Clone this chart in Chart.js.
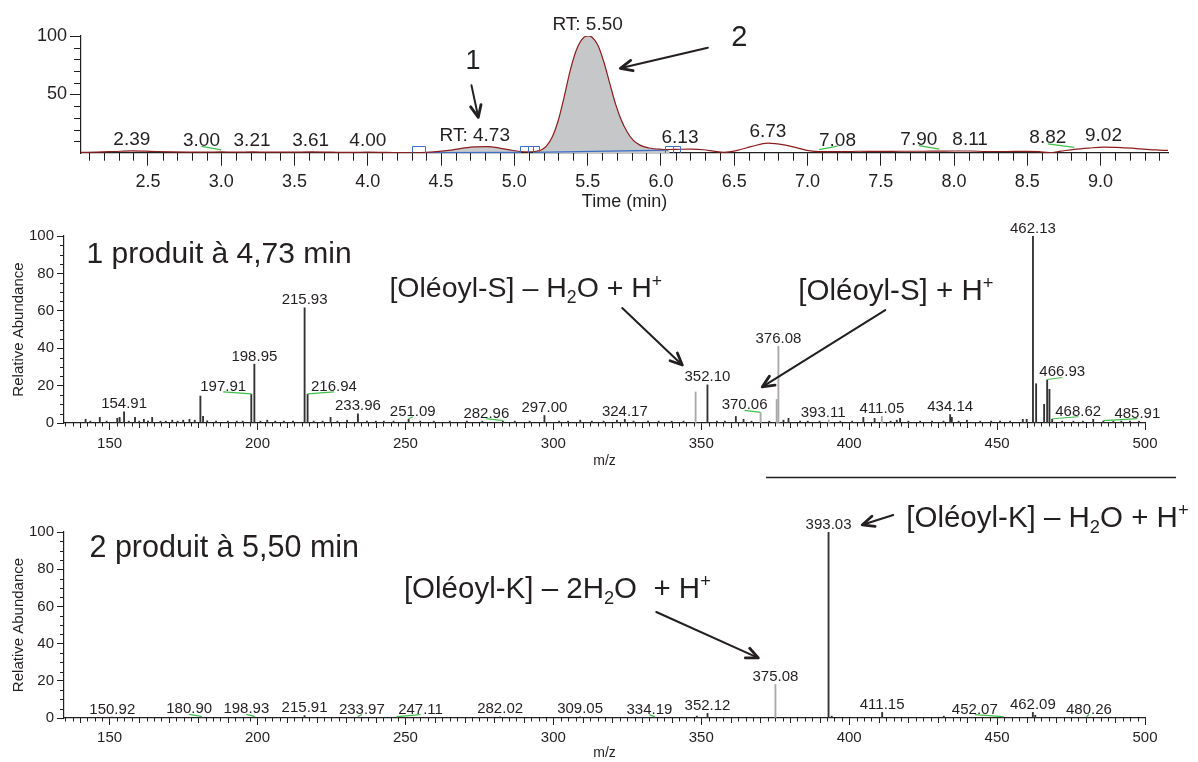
<!DOCTYPE html>
<html><head><meta charset="utf-8">
<script src="https://cdn.jsdelivr.net/npm/chart.js@4.4.1/dist/chart.umd.min.js"></script>
<style>
html,body{margin:0;padding:0;background:#fff;width:1198px;height:762px;overflow:hidden}
canvas{position:absolute;left:0}
</style></head><body>
<canvas id="c1" width="1198" height="215" style="top:0px"></canvas>
<canvas id="c2" width="1198" height="260" style="top:210px"></canvas>
<canvas id="c3" width="1198" height="292" style="top:470px"></canvas>
<script>
// ===================== DATA =====================
// Chromatogram (time in min, relative abundance %)
const chromTimes = [2.04,2.15,2.27,2.39,2.52,2.66,2.80,2.90,3.00,3.10,3.21,3.33,3.47,3.61,3.75,3.88,4.00,4.13,4.26,4.36,4.45,4.55,4.64,4.73,4.82,4.90,4.97,5.04,5.10,5.15,5.19,5.22,5.26,5.30,5.34,5.38,5.42,5.46,5.50,5.53,5.57,5.61,5.65,5.69,5.73,5.77,5.81,5.86,5.92,6.00,6.06,6.13,6.21,6.29,6.36,6.43,6.52,6.62,6.73,6.84,6.94,7.02,7.08,7.20,7.35,7.50,7.65,7.78,7.90,8.00,8.11,8.22,8.35,8.50,8.58,8.65,8.73,8.82,8.92,9.02,9.14,9.27,9.38,9.46];
const chromAbund = [0.5,0.8,1.3,1.8,1.4,1.0,0.8,0.7,0.9,0.7,0.9,0.7,0.7,0.9,0.7,0.5,0.7,0.5,0.3,0.4,1.0,2.2,4.0,5.3,5.4,4.2,2.6,1.3,1.0,1.5,3.0,6,14,28,48,70,87,97,100,99,92,78,60,42,28,18,11,6.5,4.3,3.2,3.0,3.2,3.3,2.8,1.6,0.6,2.2,5.6,8.5,7.0,4.0,1.8,1.2,1.1,1.5,1.4,1.5,1.5,1.6,1.7,1.7,1.3,1.3,1.4,1.1,0.3,1.6,3.1,4.2,5.0,4.6,3.6,2.6,2.2];
const chromPeakRT = [2.39,3.00,3.21,3.61,4.00,4.73,5.50,6.13,6.73,7.08,7.90,8.11,8.82,9.02];
const chromRTLabelled = [4.73,5.50];
const chromPeak1Range = [4.36,5.04];
const chromPeak2Range = [5.15,6.06];
const chromBaseline1 = [[4.33,0.3],[5.04,0.5]];
const chromBaseline2 = [[5.13,0.5],[6.05,2.4]];
const chromTickMajor = 0.5, chromTickMinor = 0.1;

// Spectrum 1 : product of peak 1 at 4.73 min
const spec1Mz  = [141.9,143.5,146.7,149,152.6,153.4,154.91,156.5,158.6,160,161.6,163,164.4,167.2,169,171.2,173,174.9,177.0,178.8,180.7,181.6,183,186,190,193,195,197.91,198.95,201,203.3,206,208.9,212,215.93,216.94,219,222,224.7,227,230.3,233.96,237,240,242.7,246,251.09,255,259.6,265,270.8,276,282.96,287,292,297.00,302,305,309.1,313,317,321.5,324.17,327.1,332,335.6,340,344,348.1,352.10,355.3,358,361.7,364.3,367,370.06,373,375.5,376.08,377.8,379.5,383.4,386,390,393.11,397,401,404.8,408.6,411.05,414,416.1,417.2,420,424,428,431.9,434.14,434.7,437,439.8,444.3,448,451,454.4,458.7,460,462.13,463.2,465.9,466.93,467.7,468.62,472,475.8,479,482.5,485.91,489.3,492,494.9,498];
const spec1Int = [2,1,3,1,2.5,3,6,1,3,1,2,1,3,1,1,1.5,1,1.5,2,1.5,14.4,3.6,1.2,1,1,1,1,15.3,31.5,1,1.5,1,1,1,61.6,15.3,1,1,3,1,1.5,4.9,1,1,1,1,2,1,1,1,1,1,1,1,1,4,1,1,1.5,1,1,1.5,2,1,1,1,1,1,16.6,20.4,1,1,3.5,2,1,5.4,1,12.6,41,1.5,2.5,1,1,1,1.5,1,1,3,2.5,3.5,1,1.5,2.5,1,1,1,1,4.5,3,1,1.5,1,1,1,1,2,2,100,21,10,23,18,2,1,1,1,2,1,1,1,1,1];
const spec1Labels = [154.91,197.91,198.95,215.93,216.94,233.96,251.09,282.96,297.00,324.17,352.10,370.06,376.08,393.11,411.05,434.14,462.13,466.93,468.62,485.91];
const spec1Light  = [348.1,370.06,375.5,376.08,393.11,411.05];

// Spectrum 2 : product of peak 2 at 5.50 min
const spec2Mz  = [142,150.92,158,165,172,180.90,188,198.93,205,215.91,225,233.97,240,247.11,262,270,282.02,296,309.05,320,334.19,342,348.5,352.12,360,368,375.08,385,393.03,394.1,402,411.15,420,432,440,452.07,462.09,462.9,470,480.26,490];
const spec2Int = [0.3,0.5,0.3,0.3,0.3,0.6,0.3,0.6,0.3,1.3,0.3,0.5,0.3,0.5,0.3,0.3,0.6,0.3,0.6,0.3,0.5,0.3,1,2.5,0.3,0.3,18,0.3,100,1,0.3,3,0.3,1,0.3,0.5,3,1.5,0.3,0.5,0.3];
const spec2Labels = [150.92,180.90,198.93,215.91,233.97,247.11,282.02,309.05,334.19,352.12,375.08,393.03,411.15,452.07,462.09,480.26];
const spec2Light  = [375.08];

// ===================== STYLE / ANNOTATION CONFIG =====================
const FONT = "'Liberation Sans', Arial, Helvetica, sans-serif";
const INK = '#231f20';
const RED = '#8c1d1d';
const BLUE = '#3d6fc6';
const GREEN = '#3fbf4a';
Chart.defaults.font.family = FONT;
Chart.defaults.color = INK;

const chromLabelShift = {'3.00':-0.135,'7.08':0.125,'7.90':-0.14,'8.82':-0.18};
const chromBoxes = [[4.30,4.39],[5.04,5.09],[5.09,5.13],[5.13,5.17],[6.03,6.08],[6.08,6.13]];
const chromNotes = [{text:'1',t:4.717,v:77.8,size:27},{text:'2',t:6.535,v:98.7,size:29}];
const chromArrows = [[4.707,58,4.754,30.5],[6.32,90,5.723,72.4]];

const spec1Shift = {'197.91':-9.5,'216.94':8.9,'251.09':1.4,'282.96':-5.6,'370.06':-5.4,'393.11':-1.9,'466.93':5.1,'468.62':8.8,'485.91':11.5};
const spec1Leader = ['197.91','216.94','251.09','282.96','370.06','466.93','468.62','485.91'];
const spec1Texts = [
  {parts:[{t:'1 produit à 4,73 min'}], mz:142.2, ab:85.6, size:30},
  {parts:[{t:'[Oléoyl-S] – H'},{t:'2',s:'sub'},{t:'O + H'},{t:'+',s:'sup'}], mz:244.6, ab:67.4, size:28.5},
  {parts:[{t:'[Oléoyl-S] + H'},{t:'+',s:'sup'}], mz:382.8, ab:65.8, size:29.5}
];
const spec1Arrows = [[323.3,61.5,343.6,31.0],[412.2,60.4,370.6,19.3]];

const spec2Shift = {'180.90':-4,'198.93':-2.7,'233.97':1.3,'247.11':8,'334.19':-1.7,'452.07':-9.6,'480.26':0.8};
const spec2Leader = ['180.90','198.93','233.97','247.11','334.19','452.07','480.26'];
const spec2Texts = [
  {parts:[{t:'2 produit à 5,50 min'}], mz:143.2, ab:86.6, size:30.5},
  {parts:[{t:'[Oléoyl-K] – 2H'},{t:'2',s:'sub'},{t:'O  + H'},{t:'+',s:'sup'}], mz:249.5, ab:64.5, size:29.5},
  {parts:[{t:'[Oléoyl-K] – H'},{t:'2',s:'sub'},{t:'O + H'},{t:'+',s:'sup'}], mz:419.3, ab:102.7, size:29.5}
];
const spec2Arrows = [[334.8,57,369.3,32.3],[414.9,109.1,404.4,103.8]];
const spec2Separator = [371.9,510.5,129.6];

// ===================== HELPERS =====================
function arrow(ctx,x1,y1,x2,y2){
  ctx.save();
  ctx.strokeStyle=INK; ctx.lineWidth=2; ctx.lineCap='round'; ctx.lineJoin='round';
  const a=Math.atan2(y2-y1,x2-x1), L=13, sp=0.42;
  ctx.beginPath(); ctx.moveTo(x1,y1); ctx.lineTo(x2-Math.cos(a)*2,y2-Math.sin(a)*2); ctx.stroke();
  ctx.lineWidth=2.8;
  ctx.beginPath();
  ctx.moveTo(x2-L*Math.cos(a-sp),y2-L*Math.sin(a-sp));
  ctx.lineTo(x2,y2);
  ctx.lineTo(x2-L*Math.cos(a+sp),y2-L*Math.sin(a+sp));
  ctx.stroke();
  ctx.restore();
}
function richText(ctx,x,y,parts,size){
  let cx=x;
  ctx.textAlign='left'; ctx.textBaseline='alphabetic'; ctx.fillStyle=INK;
  for(const p of parts){
    const fs=p.s?size*0.62:size;
    ctx.font=fs+'px '+FONT;
    const dy=p.s==='sub'?size*0.2:(p.s==='sup'?-size*0.36:0);
    ctx.fillText(p.t,cx,y+dy);
    cx+=ctx.measureText(p.t).width;
  }
}
function minorTicksX(chart,step,skip,len,len2,mid){
  const {ctx,chartArea:a,scales:{x}}=chart;
  ctx.save(); ctx.strokeStyle=INK; ctx.lineWidth=1;
  const n0=Math.ceil(x.min/step-1e-6), n1=Math.floor(x.max/step+1e-6);
  for(let n=n0;n<=n1;n++){
    const v=n*step;
    if(Math.abs(v/skip-Math.round(v/skip))<1e-6) continue;
    const isMid = mid && Math.abs(v/mid-Math.round(v/mid))<1e-6;
    const px=Math.round(x.getPixelForValue(v))+0.5;
    ctx.beginPath(); ctx.moveTo(px,a.bottom); ctx.lineTo(px,a.bottom+(isMid?len2:len)); ctx.stroke();
  }
  ctx.restore();
}
function minorTicksY(chart,step,skip,len){
  const {ctx,chartArea:a,scales:{y}}=chart;
  ctx.save(); ctx.strokeStyle=INK; ctx.lineWidth=1;
  for(let v=step;v<y.max;v+=step){
    if(Math.abs(v/skip-Math.round(v/skip))<1e-6) continue;
    const py=Math.round(y.getPixelForValue(v))+0.5;
    ctx.beginPath(); ctx.moveTo(a.left-len,py); ctx.lineTo(a.left,py); ctx.stroke();
  }
  ctx.restore();
}
function pts(xs,ys,lo,hi){
  const out=[];
  xs.forEach((v,i)=>{ if(lo===undefined || (v>=lo-1e-9 && v<=hi+1e-9)) out.push({x:v,y:ys[i]}); });
  return out;
}

// ===================== CHART 1 : CHROMATOGRAM =====================
const chromDecor = {
  id:'chromDecor',
  afterDatasetsDraw(chart){
    const {ctx,scales:{x,y}}=chart;
    ctx.save();
    ctx.strokeStyle=BLUE; ctx.lineWidth=1;
    for(const [t0,t1] of chromBoxes){
      const x0=Math.round(x.getPixelForValue(t0))+0.5, x1=Math.round(x.getPixelForValue(t1))+0.5;
      const yt=Math.round(y.getPixelForValue(6))+0.5, yb=y.getPixelForValue(0);
      ctx.beginPath(); ctx.moveTo(x0,yb); ctx.lineTo(x0,yt); ctx.lineTo(x1,yt); ctx.lineTo(x1,yb); ctx.stroke();
    }
    ctx.font='19px '+FONT; ctx.fillStyle=INK; ctx.textAlign='center'; ctx.textBaseline='alphabetic';
    for(const t of chromPeakRT){
      let idx=0,best=1e9; chromTimes.forEach((tt,i)=>{const d=Math.abs(tt-t); if(d<best){best=d;idx=i;}});
      const key=t.toFixed(2);
      const shift=chromLabelShift[key]||0;
      const px=x.getPixelForValue(t), py=y.getPixelForValue(chromAbund[idx]);
      const lx=x.getPixelForValue(t+shift);
      const txt=(chromRTLabelled.includes(t)?'RT: ':'')+key;
      ctx.fillText(txt,lx,py-6);
      if(shift){
        ctx.save(); ctx.strokeStyle=GREEN; ctx.lineWidth=1.2;
        ctx.beginPath(); ctx.moveTo(px,py-2); ctx.lineTo(lx,py-5.5); ctx.stroke(); ctx.restore();
      }
    }
    for(const n of chromNotes){
      ctx.font=n.size+'px '+FONT; ctx.textBaseline='middle'; ctx.textAlign='center';
      ctx.fillText(n.text,x.getPixelForValue(n.t),y.getPixelForValue(n.v));
    }
    for(const [a1,b1,a2,b2] of chromArrows) arrow(ctx,x.getPixelForValue(a1),y.getPixelForValue(b1),x.getPixelForValue(a2),y.getPixelForValue(b2));
    ctx.restore();
  },
  afterDraw(chart){
    minorTicksX(chart,chromTickMinor,chromTickMajor,7.7);
    minorTicksY(chart,10,50,7);
  }
};

new Chart(document.getElementById('c1'),{
  type:'line',
  data:{datasets:[
    {label:'TIC',data:pts(chromTimes,chromAbund),borderColor:RED,borderWidth:1.2,pointRadius:0,fill:false,cubicInterpolationMode:'monotone',order:0},
    {label:'baseline 1',data:chromBaseline1.map(p=>({x:p[0],y:p[1]})),borderColor:BLUE,borderWidth:1.2,pointRadius:0,fill:false,order:1},
    {label:'baseline 2',data:chromBaseline2.map(p=>({x:p[0],y:p[1]})),borderColor:BLUE,borderWidth:1.2,pointRadius:0,fill:false,order:1},
    {label:'peak 1',data:pts(chromTimes,chromAbund,chromPeak1Range[0],chromPeak1Range[1]),borderWidth:0,pointRadius:0,fill:'origin',backgroundColor:'#c9cacc',cubicInterpolationMode:'monotone',order:2},
    {label:'peak 2',data:pts(chromTimes,chromAbund,chromPeak2Range[0],chromPeak2Range[1]),borderWidth:0,pointRadius:0,fill:'origin',backgroundColor:'#c6c7c9',cubicInterpolationMode:'monotone',order:2}
  ]},
  options:{
    responsive:false,animation:false,devicePixelRatio:1,
    layout:{padding:{top:36,right:30,left:0,bottom:0}},
    plugins:{legend:{display:false},tooltip:{enabled:false}},
    scales:{
      x:{type:'linear',min:2.043,max:9.46,
        afterFit:s=>{s.height=62;},
        ticks:{stepSize:0.5,includeBounds:false,autoSkip:false,maxRotation:0,callback:v=>Number(v).toFixed(1),font:{size:18},color:INK,padding:6},
        grid:{drawOnChartArea:false,tickLength:12.7,color:INK},
        border:{color:INK,width:1.2},
        title:{display:true,text:'Time (min)',font:{size:18},color:INK,padding:{top:0,bottom:2}}},
      y:{min:0,max:100,
        afterFit:s=>{s.width=81;},
        ticks:{stepSize:50,callback:v=>v===0?'':String(v),font:{size:18},color:INK,padding:3},
        grid:{drawOnChartArea:false,tickLength:11,color:INK,tickColor:c=>(c.tick&&c.tick.value===0)?'rgba(0,0,0,0)':INK},
        border:{color:INK,width:1.2}}
    }
  },
  plugins:[chromDecor]
});

// ===================== SPECTRA =====================
function makeSpectrum(id,mz,inten,labels,light,shift,leaders,texts,arrows,top,bottomH,separator,labPad){
  const decor={
    id:'specDecor_'+id,
    afterDatasetsDraw(chart){
      const {ctx,scales:{x,y}}=chart;
      ctx.save();
      ctx.font='15px '+FONT; ctx.fillStyle=INK; ctx.textAlign='center'; ctx.textBaseline='alphabetic';
      for(const m of labels){
        const i=mz.indexOf(m);
        const key=m.toFixed(2);
        const s=shift[key]||0;
        const px=x.getPixelForValue(m), py=y.getPixelForValue(inten[i]);
        const lx=x.getPixelForValue(m+s);
        ctx.fillText(key,lx,py-3.5);
        if(leaders.includes(key)){
          ctx.save(); ctx.strokeStyle=GREEN; ctx.lineWidth=1.2;
          ctx.beginPath(); ctx.moveTo(px,py-0.5); ctx.lineTo(lx,py-2.5); ctx.stroke(); ctx.restore();
        }
      }
      for(const tx of texts) richText(ctx,x.getPixelForValue(tx.mz),y.getPixelForValue(tx.ab),tx.parts,tx.size);
      for(const [a1,b1,a2,b2] of arrows) arrow(ctx,x.getPixelForValue(a1),y.getPixelForValue(b1),x.getPixelForValue(a2),y.getPixelForValue(b2));
      if(separator){
        ctx.strokeStyle=INK; ctx.lineWidth=1.3;
        const yy=Math.round(y.getPixelForValue(separator[2]))+0.5;
        ctx.beginPath(); ctx.moveTo(x.getPixelForValue(separator[0]),yy); ctx.lineTo(x.getPixelForValue(separator[1]),yy); ctx.stroke();
      }
      ctx.restore();
    },
    afterDraw(chart){
      minorTicksX(chart,2.5,50,3.5,5,10);
      minorTicksY(chart,5,20,4);
    }
  };
  return new Chart(document.getElementById(id),{
    type:'bar',
    data:{datasets:[{label:'spectrum',data:pts(mz,inten),
      backgroundColor:c=>{const r=c.raw; return (r && light.includes(r.x))?'#a9a9a9':'#333333';},
      borderWidth:0,barThickness:1.2,grouped:false}]},
    options:{
      responsive:false,animation:false,devicePixelRatio:1,
      layout:{padding:{top:top,right:53,left:0,bottom:0}},
      plugins:{legend:{display:false},tooltip:{enabled:false}},
      scales:{
        x:{type:'linear',min:134.6,max:500,offset:false,
          afterFit:s=>{s.height=bottomH;},
          ticks:{stepSize:50,includeBounds:false,autoSkip:false,maxRotation:0,font:{size:15},color:INK,padding:labPad},
          grid:{drawOnChartArea:false,offset:false,tickLength:7,color:INK},
          border:{color:INK,width:1.2},
          title:{display:true,text:'m/z',font:{size:14},color:INK,padding:{top:0,bottom:0}}},
        y:{min:0,max:100,
          afterFit:s=>{s.width=64;},
          ticks:{stepSize:20,font:{size:15},color:INK,padding:3},
          grid:{drawOnChartArea:false,tickLength:7,color:INK},
          border:{color:INK,width:1.2},
          title:{display:true,text:'Relative Abundance',font:{size:15},color:INK,padding:{top:10,bottom:0}}}
      }
    },
    plugins:[decor]
  });
}

makeSpectrum('c2',spec1Mz,spec1Int,spec1Labels,spec1Light,spec1Shift,spec1Leader,spec1Texts,spec1Arrows,26,47,null,5);
makeSpectrum('c3',spec2Mz,spec2Int,spec2Labels,spec2Light,spec2Shift,spec2Leader,spec2Texts,spec2Arrows,62,44,spec2Separator,4);
</script>
</body></html>
